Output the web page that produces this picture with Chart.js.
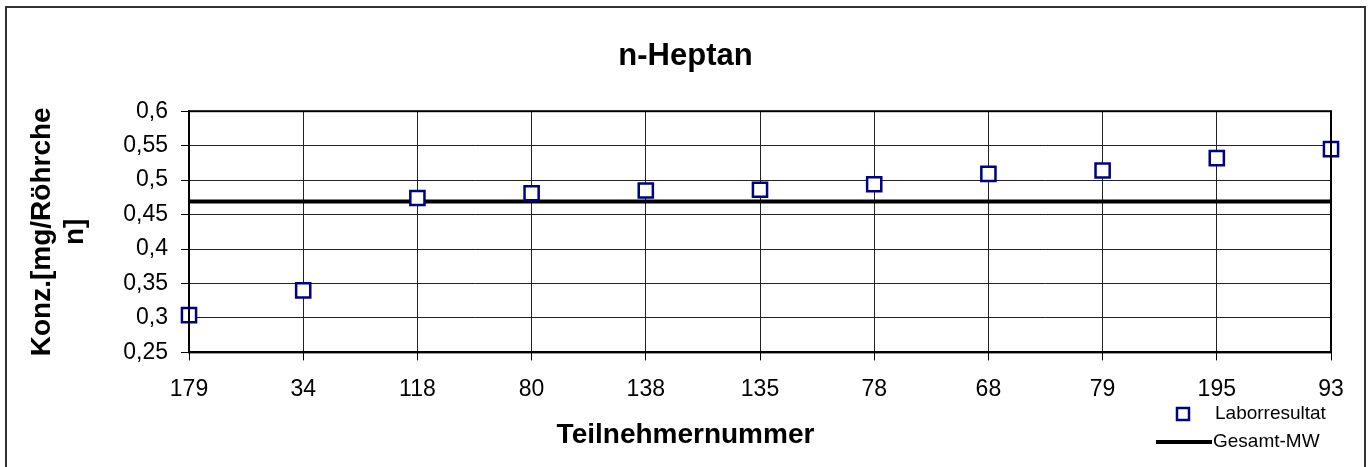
<!DOCTYPE html>
<html>
<head>
<meta charset="utf-8">
<title>n-Heptan</title>
<script src="https://cdn.jsdelivr.net/npm/chart.js@4.4.1/dist/chart.umd.min.js"></script>
<style>
    html, body { margin: 0; padding: 0; background: #fff; }
    #wrap { width: 1371px; height: 467px; position: relative; }
</style>
</head>
<body>
<div id="wrap"><canvas id="chart"></canvas></div>
<script>
// Teilnehmer (x categories), sorted by result
const participants = ['179', '34', '118', '80', '138', '135', '78', '68', '79', '195', '93'];
// Laborresultat [mg/Röhrchen]
const labResults = [0.304, 0.340, 0.474, 0.481, 0.485, 0.486, 0.494, 0.509, 0.514, 0.532, 0.545];
// Gesamt-Mittelwert
const overallMean = [0.469, 0.469, 0.469, 0.469, 0.469, 0.469, 0.469, 0.469, 0.469, 0.469, 0.469];
// y tick labels
const yTickValues = [0.25, 0.3, 0.35, 0.4, 0.45, 0.5, 0.55, 0.6];

const FONT = 'Arial, "Liberation Sans", sans-serif';
const NAVY = '#000080';

// outer frame + plot area frame
const framePlugin = {
    id: 'frames',
    beforeDraw(chart) {
        const ctx = chart.ctx;
        ctx.save();
        ctx.strokeStyle = '#333';
        ctx.lineWidth = 2;
        ctx.strokeRect(6, 7, 1359, 480);
        ctx.restore();
    },
    afterDatasetsDraw(chart) {
        const { ctx, chartArea: a } = chart;
        ctx.save();
        ctx.strokeStyle = '#000';
        ctx.lineWidth = 2;
        ctx.strokeRect(a.left, a.top, a.right - a.left, a.bottom - a.top);
        ctx.restore();
    }
};

// legend in the lower right corner, like the original sheet
const cornerLegend = {
    id: 'cornerLegend',
    afterDraw(chart) {
        const ctx = chart.ctx;
        const [pts, mean] = chart.data.datasets;
        ctx.save();
        ctx.font = '19px ' + FONT;
        ctx.textBaseline = 'middle';

        // marker entry
        ctx.fillStyle = '#fff';
        ctx.fillRect(1177, 408, 12, 12);
        ctx.strokeStyle = pts.borderColor;
        ctx.lineWidth = 2.5;
        ctx.strokeRect(1177, 408, 12, 12);
        ctx.fillStyle = '#000';
        ctx.fillText(pts.label, 1215, 414);

        // line entry
        ctx.strokeStyle = mean.borderColor;
        ctx.lineWidth = 4;
        ctx.beginPath();
        ctx.moveTo(1156, 442);
        ctx.lineTo(1212, 442);
        ctx.stroke();
        ctx.fillText(mean.label, 1213, 442);
        ctx.restore();
    }
};

new Chart(document.getElementById('chart'), {
    type: 'line',
    data: {
        labels: participants,
        datasets: [
            {
                label: 'Laborresultat',
                data: labResults,
                showLine: false,
                pointStyle: 'rect',
                pointRadius: 10,
                pointHoverRadius: 10,
                pointBorderWidth: 2.5,
                borderColor: NAVY,
                backgroundColor: '#fff',
                pointBackgroundColor: '#fff',
                clip: false
            },
            {
                label: 'Gesamt-MW',
                data: overallMean,
                borderColor: '#000',
                borderWidth: 4,
                pointRadius: 0,
                tension: 0
            }
        ]
    },
    options: {
        responsive: true,
        maintainAspectRatio: false,
        animation: false,
        devicePixelRatio: 1,
        layout: { padding: 0 },
        plugins: {
            legend: { display: false },
            tooltip: { enabled: false },
            title: {
                display: true,
                text: 'n-Heptan',
                color: '#000',
                font: { family: FONT, size: 31, weight: 'bold', lineHeight: 1.2 },
                padding: { top: 38, bottom: 36 }
            },
            subtitle: {
                display: true,
                position: 'bottom',
                text: 'Teilnehmernummer',
                color: '#000',
                font: { family: FONT, size: 28, weight: 'bold', lineHeight: 1.2 },
                padding: { top: 0, bottom: 15 }
            }
        },
        scales: {
            x: {
                offset: false,
                grid: { color: '#222', lineWidth: 1, drawTicks: true, tickLength: 8, tickColor: '#000' },
                border: { display: true, color: '#000', width: 2 },
                ticks: {
                    color: '#000',
                    padding: 15,
                    maxRotation: 0,
                    autoSkip: false,
                    font: { family: FONT, size: 23 }
                },
                afterFit(scale) { scale.height = 66; }
            },
            y: {
                min: 0.25,
                max: 0.6,
                afterBuildTicks(scale) {
                    scale.ticks = yTickValues.map(v => ({ value: v }));
                },
                grid: { color: '#222', lineWidth: 1, drawTicks: true, tickLength: 8, tickColor: '#000' },
                border: { display: true, color: '#000', width: 2 },
                ticks: {
                    color: '#000',
                    padding: 13,
                    font: { family: FONT, size: 23 },
                    callback: v => String(Math.round(v * 100) / 100).replace('.', ',')
                },
                title: {
                    display: true,
                    text: ['Konz.[mg/Röhrche', 'n]'],
                    color: '#000',
                    font: { family: FONT, size: 28, weight: 'bold', lineHeight: 1.2 },
                    padding: { top: 25, bottom: 0 }
                },
                afterFit(scale) { scale.width = 189; }
            },
            // empty right margin so the titles stay centred on the whole sheet
            yRight: {
                type: 'linear',
                position: 'right',
                grid: { display: false },
                ticks: { display: false },
                border: { display: false },
                afterFit(scale) { scale.width = 40; }
            }
        }
    },
    plugins: [framePlugin, cornerLegend]
});
</script>
</body>
</html>
